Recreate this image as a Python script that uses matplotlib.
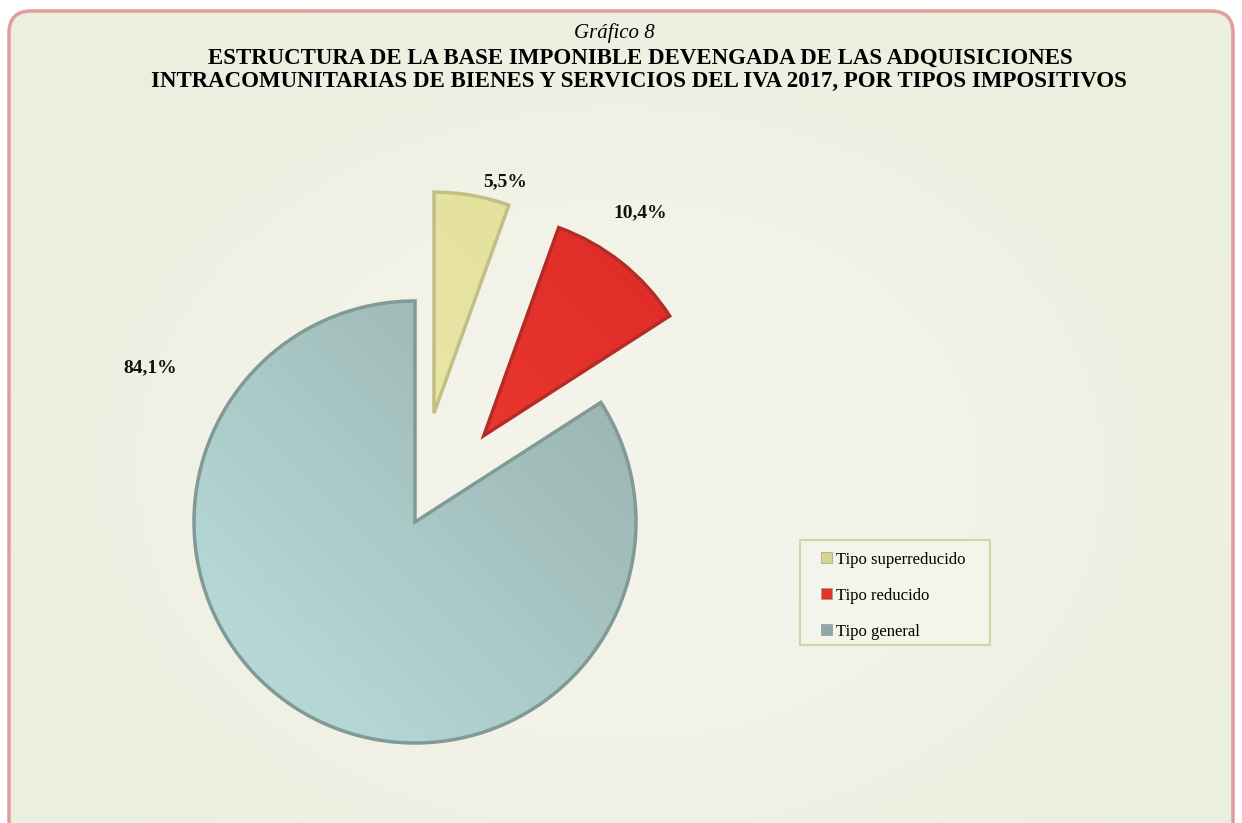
import numpy as np
import matplotlib
matplotlib.use("Agg")
import matplotlib.pyplot as plt
from matplotlib.patches import FancyBboxPatch, Patch, Rectangle
from matplotlib.colors import LinearSegmentedColormap

plt.rcParams["font.family"] = ["Liberation Serif", "DejaVu Serif"]

# Datos
categorias = ["Tipo superreducido", "Tipo reducido", "Tipo general"]
valores = [5.5, 10.4, 84.1]
etiquetas = ["5,5%", "10,4%", "84,1%"]

# Estilo
separacion = [0.5, 0.5, 0.0]
color_claro = ["#F7F4C2", "#FF4D42", "#C4ECEC"]
color_oscuro = ["#E0DC94", "#DC2823", "#8EA39F"]
color_borde = ["#C2BF86", "#B42C28", "#819997"]
color_leyenda = ["#D8D68E", "#E8302A", "#8FA8A6"]
pos_etiquetas = [(0.41, 1.54), (1.02, 1.40), (-1.20, 0.70)]

W, H = 1242, 823
fig = plt.figure(figsize=(W / 100, H / 100), dpi=100)
fig.patch.set_facecolor("white")

# fondo con marco redondeado
bg = fig.add_axes([0, 0, 1, 1])
bg.set_xlim(0, W)
bg.set_ylim(H, 0)
bg.axis("off")
yy, xx = np.mgrid[0:H, 0:W]
d = np.sqrt(((xx - 620) / 720) ** 2 + ((yy - 470) / 540) ** 2)
cmap_bg = LinearSegmentedColormap.from_list("bg", ["#F5F4EC", "#F2F2E7", "#EBEFDE"])
img = bg.imshow(np.clip(d, 0, 1), cmap=cmap_bg, extent=(0, W, H, 0), aspect="auto", zorder=0)
marco = FancyBboxPatch((9, 11), W - 18, H + 40, boxstyle="round,pad=0,rounding_size=22",
                       facecolor="none", edgecolor="#E29C9C", linewidth=2.5, zorder=2)
bg.add_patch(marco)
img.set_clip_path(marco)

# caja de la leyenda
bg.add_patch(Rectangle((800, 540), 190, 105, facecolor="#F3F4EA", edgecolor="#C8DBA4",
                       linewidth=1.5, zorder=3))

# tarta
cx, cy, r = 415, 522, 221
lim = 1.5
ax = fig.add_axes([(cx - lim * r) / W, (H - cy - lim * r) / H, 2 * lim * r / W, 2 * lim * r / H])
ax.patch.set_alpha(0)
wedges, _ = ax.pie(valores, explode=separacion, colors=color_claro, startangle=90,
                   counterclock=False, radius=1)

g = np.linspace(0, 1, 300)
grad = (g[None, :] * 0.5 + (1 - g[:, None]) * 0.5)
for w, c1, c2, ce in zip(wedges, color_claro, color_oscuro, color_borde):
    cm = LinearSegmentedColormap.from_list("w", [c1, c2])
    im = ax.imshow(grad, cmap=cm, extent=(-lim, lim, -lim, lim), origin="upper", zorder=1)
    im.set_clip_path(w)
    w.set_facecolor("none")
    w.set_edgecolor(ce)
    w.set_linewidth(2.5)
    w.set_zorder(3)

for (x, y), t in zip(pos_etiquetas, etiquetas):
    ax.text(x, y, t, ha="center", va="center", fontsize=14, fontweight="bold", color="#111111")

ax.set_xlim(-lim, lim)
ax.set_ylim(-lim, lim)
ax.axis("off")

# titulo
fig.text(614 / W, 1 - 33 / H, "Gráfico 8", ha="center", va="center", fontsize=15, style="italic")
fig.text(640 / W, 1 - 58 / H, "ESTRUCTURA DE LA BASE IMPONIBLE DEVENGADA DE LAS ADQUISICIONES",
         ha="center", va="center", fontsize=16.5, fontweight="bold")
fig.text(639 / W, 1 - 81 / H, "INTRACOMUNITARIAS DE BIENES Y SERVICIOS DEL IVA 2017, POR TIPOS IMPOSITIVOS",
         ha="center", va="center", fontsize=16.5, fontweight="bold")

# leyenda
handles = [Patch(facecolor=c, edgecolor="#999999", linewidth=0.5) for c in color_leyenda]
leg = fig.legend(handles, categorias, loc="upper left", bbox_to_anchor=(821 / W, 1 - 551.5 / H),
                 frameon=False, fontsize=12, labelspacing=1.2,
                 handlelength=0.65, handleheight=0.65, handletextpad=0.25,
                 borderpad=0, borderaxespad=0)
leg.set_zorder(5)

fig.savefig("out.png", dpi=100)
